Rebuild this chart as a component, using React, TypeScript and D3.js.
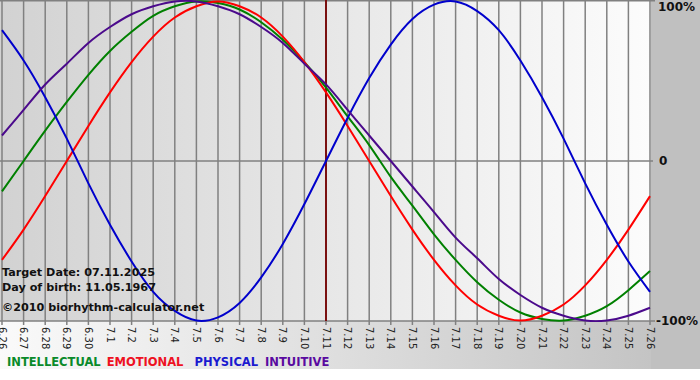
import React from "react";
import * as d3 from "d3";

const dates = ["6.26","6.27","6.28","6.29","6.30","7.1","7.2","7.3","7.4","7.5","7.6","7.7","7.8","7.9","7.10","7.11","7.12","7.13","7.14","7.15","7.16","7.17","7.18","7.19","7.20","7.21","7.22","7.23","7.24","7.25","7.26"];

const intellectual = [-0.19,0,0.19,0.37,0.54,0.69,0.81,0.91,0.97,1.0,0.99,0.95,0.87,0.76,0.62,0.46,0.28,0.1,-0.1,-0.28,-0.46,-0.62,-0.76,-0.87,-0.95,-0.99,-1.0,-0.97,-0.91,-0.81,-0.69];
const emotional = [-0.62,-0.43,-0.22,0,0.22,0.43,0.62,0.78,0.9,0.97,1.0,0.97,0.9,0.78,0.62,0.43,0.22,0,-0.22,-0.43,-0.62,-0.78,-0.9,-0.97,-1.0,-0.97,-0.9,-0.78,-0.62,-0.43,-0.22];
const physical = [0.82,0.63,0.4,0.14,-0.14,-0.4,-0.63,-0.82,-0.94,-1.0,-0.98,-0.89,-0.73,-0.52,-0.27,0,0.27,0.52,0.73,0.89,0.98,1.0,0.94,0.82,0.63,0.4,0.14,-0.14,-0.4,-0.63,-0.82];
const intuitive = [0.16,0.32,0.48,0.61,0.74,0.84,0.92,0.97,1.0,1.0,0.97,0.92,0.84,0.74,0.61,0.48,0.32,0.16,0,-0.16,-0.32,-0.48,-0.61,-0.74,-0.84,-0.92,-0.97,-1.0,-1.0,-0.97,-0.92];

const seriesNames = ["INTELLECTUAL", "EMOTIONAL", "PHYSICAL", "INTUITIVE"];
const yTickLabels = ["100%", "0", "-100%"];
const yTickValues = [1, 0, -1];
const targetIndex = 15;
const infoLines = ["Target Date: 07.11.2025", "Day of birth: 11.05.1967", "\u00a92010 biorhythm-calculator.net"];

const colors = ["#008000", "#ff0000", "#0000cc", "#4b0a8c"];
const legendColors = ["#0a8a2a", "#ee1122", "#1a1ad0", "#5a0aa0"];
const legendGaps = [0, 6, 11, 7];

export default function App() {
  const W = 700, H = 380;
  const plotRight = 651;
  const plotBottom = 321;
  const contentBottom = 369;
  const x = d3.scaleLinear().domain([0, dates.length - 1]).range([2, 650]);
  const y = d3.scaleLinear().domain([-1, 1]).range([320.5, 1.5]);
  const allSeries = [intellectual, emotional, physical, intuitive];
  const line = d3
    .line<number>()
    .x((_, i) => x(i))
    .y((v) => y(v))
    .curve(d3.curveNatural);

  const font = "'DejaVu Sans', Verdana, sans-serif";

  return (
    <svg
      width={W}
      height={H}
      style={{ position: "absolute", left: 0, top: 0, display: "block" }}
    >
      <defs>
        <linearGradient id="plotbg" x1="0" x2="1" y1="0" y2="0">
          <stop offset="0" stopColor="#d2d2d2" />
          <stop offset="1" stopColor="#fcfcfc" />
        </linearGradient>
        <linearGradient id="outerbg" x1="0" x2="1" y1="0" y2="0">
          <stop offset="0" stopColor="#fafafa" />
          <stop offset="1" stopColor="#c0c0c0" />
        </linearGradient>
        <clipPath id="plotclip">
          <rect x={0} y={0} width={plotRight} height={plotBottom + 1} />
        </clipPath>
      </defs>
      <rect x={0} y={0} width={W} height={H} fill="#ffffff" />
      <rect x={0} y={plotBottom} width={W} height={contentBottom - plotBottom} fill="url(#outerbg)" />
      <rect x={plotRight} y={0} width={W - plotRight} height={contentBottom} fill="#c0c0c0" />
      <rect x={0} y={0} width={plotRight} height={plotBottom} fill="url(#plotbg)" />

      {dates.map((d, i) => (
        <line
          key={"g" + d}
          x1={x(i)}
          x2={x(i)}
          y1={0}
          y2={plotBottom + 4}
          stroke="#808080"
          strokeWidth={1.5}
        />
      ))}
      {yTickValues.map((v) => (
        <line
          key={"h" + v}
          x1={0}
          x2={v === 0 ? plotRight + 2 : plotRight + 4}
          y1={v === 1 ? 0.75 : v === -1 ? plotBottom : y(v)}
          y2={v === 1 ? 0.75 : v === -1 ? plotBottom : y(v)}
          stroke="#808080"
          strokeWidth={1.5}
        />
      ))}

      <line
        x1={x(targetIndex)}
        x2={x(targetIndex)}
        y1={0}
        y2={plotBottom}
        stroke="#7a1010"
        strokeWidth={2}
      />

      <g clipPath="url(#plotclip)">
        {allSeries.map((s, k) => (
          <path
            key={seriesNames[k]}
            d={line(s) || ""}
            fill="none"
            stroke={colors[k]}
            strokeWidth={2}
          />
        ))}
      </g>

      {infoLines.map((t, i) => (
        <text
          key={t}
          x={2}
          y={[276, 291, 311][i]}
          fontFamily={font}
          fontWeight="bold"
          fontSize={11.2}
          fill="#111"
        >
          {t}
        </text>
      ))}

      {dates.map((d, i) => (
        <text
          key={"t" + d}
          transform={`translate(${x(i)},${plotBottom + 6}) rotate(90)`}
          dominantBaseline="central"
          fontFamily={font}
          fontSize={10}
          fill="#222"
        >
          {d}
        </text>
      ))}

      {yTickValues.map((v, i) => (
        <text
          key={"y" + v}
          x={v === 0 ? 659 : v === 1 ? 658 : 656}
          y={v === 1 ? 7 : v === -1 ? plotBottom : y(v)}
          dominantBaseline="central"
          fontFamily={font}
          fontWeight="bold"
          fontSize={12}
          fill="#111"
        >
          {yTickLabels[i]}
        </text>
      ))}

      <text x={7} y={366} fontFamily={font} fontWeight="bold" fontSize={11.5}>
        {seriesNames.map((n, k) => (
          <tspan key={n} dx={legendGaps[k]} fill={legendColors[k]}>
            {n}
          </tspan>
        ))}
      </text>
    </svg>
  );
}
